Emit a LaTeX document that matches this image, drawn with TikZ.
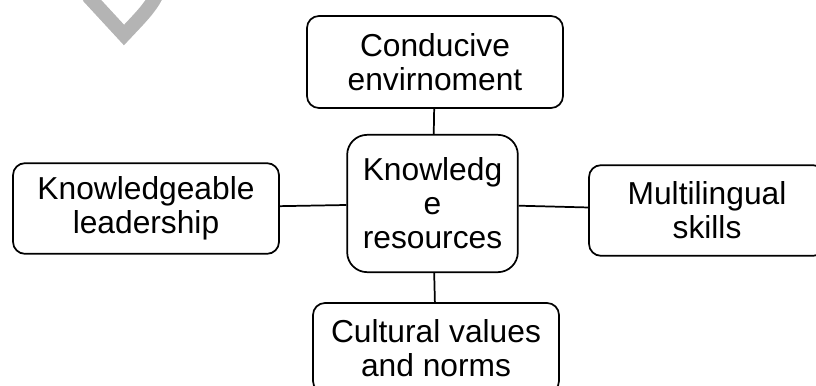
\documentclass[tikz,border=0pt]{standalone}
\usepackage{fontspec}
\setmainfont{Liberation Sans}
\usetikzlibrary{positioning}
\definecolor{markgray}{RGB}{180,180,180}

\begin{document}
\begin{tikzpicture}[x=0.75pt, y=-0.75pt,
    theme/.style={draw, line width=1.3pt, rounded corners=9pt, align=center,
                  inner sep=2pt, font=\fontsize{23.8}{25.5}\selectfont},
    link/.style={line width=1.3pt}]
        \useasboundingbox (0,0) rectangle (816,385);
        \clip (0,0) rectangle (816,385);
        % faint mark in the corner
        \draw[markgray, line width=10.5pt, line join=miter]
          (88,-4) -- (124,35) .. controls (140,18) and (150,8) .. (156,-4);
        \node[theme, rounded corners=15pt, minimum width=128pt, minimum height=103pt]
          (res) at (432.5,203.5) {Knowledg\\e\\resources};
        \node[theme, minimum width=192pt, minimum height=69pt]
          (env) at (435,62) {Conducive\\envirnoment};
        \node[theme, minimum width=199.5pt, minimum height=68pt]
          (lead) at (146,208.5) {Knowledgeable\\leadership};
        \node[theme, minimum width=177pt, minimum height=68pt]
          (multi) at (707,210.5) {Multilingual\\skills};
        \node[theme, minimum width=184.5pt, minimum height=67.5pt]
          (cult) at (436,348) {Cultural values\\and norms};
        \draw[link] (env) -- (res);
        \draw[link] (lead) -- (res);
        \draw[link] (res) -- (multi);
        \draw[link] (res) -- (cult);
      \end{tikzpicture}
\end{document}
